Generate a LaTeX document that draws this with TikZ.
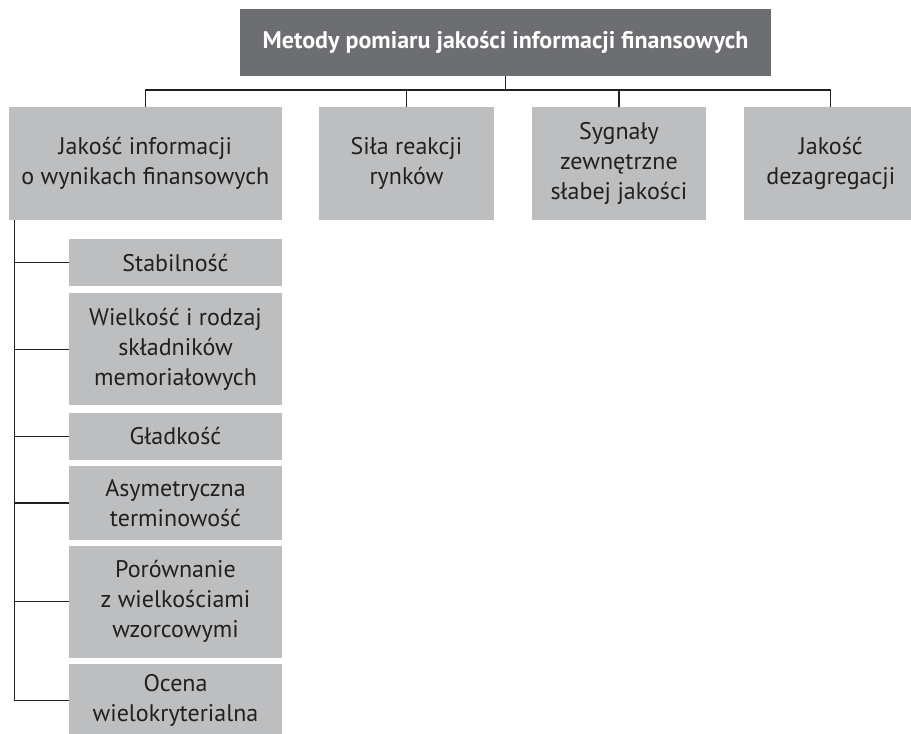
\documentclass[tikz,border=0pt]{standalone}
\usepackage{fontspec}
\setmainfont{PT Sans}
\definecolor{darkbox}{HTML}{6D6E71}
\definecolor{lightbox}{HTML}{BCBEC0}
\definecolor{ink}{HTML}{231F20}
\tikzset{
  x=1pt,y=-1pt,
  topbox/.style={rectangle, fill=darkbox, text=white, inner sep=0pt, align=center,
    font=\fontsize{24}{30}\selectfont\bfseries},
  mainbox/.style={rectangle, fill=lightbox, text=ink, inner sep=0pt, align=center,
    font=\fontsize{24}{30}\selectfont},
  subbox/.style={mainbox, minimum width=213pt},
  link/.style={draw=ink, line width=1.2pt}
}
\begin{document}
\begin{tikzpicture}
\useasboundingbox (0,0) rectangle (911,734);
\node[topbox, minimum width=531pt, minimum height=67pt] (top) at (505.5,42.5) {Metody pomiaru jakości informacji finansowych};
\node[mainbox, minimum width=273pt, minimum height=113pt] (b1) at (145.3,163.5) {Jakość informacji\\o wynikach finansowych};
\node[mainbox, minimum width=175.5pt, minimum height=113pt] (b2) at (406.5,163.5) {Siła reakcji\\rynków};
\node[mainbox, minimum width=174.3pt, minimum height=113pt] (b3) at (618.9,163.5) {Sygnały\\zewnętrzne\\słabej jakości};
\node[mainbox, minimum width=174pt, minimum height=113pt] (b4) at (830.8,163.5) {Jakość\\dezagregacji};
\node[subbox, minimum height=47pt] (s1) at (175.5,262.7) {Stabilność};
\node[subbox, minimum height=112.4pt] (s2) at (175.5,349.2) {Wielkość i rodzaj\\składników\\memoriałowych};
\node[subbox, minimum height=46.6pt] (s3) at (175.5,436.3) {Gładkość};
\node[subbox, minimum height=73.3pt] (s4) at (175.5,503) {Asymetryczna\\terminowość};
\node[subbox, minimum height=111.8pt] (s5) at (175.5,601.7) {Porównanie\\z wielkościami\\wzorcowymi};
\node[subbox, minimum height=73pt] (s6) at (175.5,700.5) {Ocena\\wielokryterialna};
\coordinate (bar) at (0,90);
\coordinate (trunk) at (14.5,0);
\draw[link] (top.south) -- (top.south |- bar);
\draw[link] (b1.north) -- (b1.north |- bar) -- (b4.north |- bar) -- (b4.north);
\draw[link] (b2.north) -- (b2.north |- bar);
\draw[link] (b3.north) -- (b3.north |- bar);
\draw[link] (b1.south -| trunk) -- (s6.west -| trunk) -- (s6.west);
\foreach \s in {s1,s2,s3,s4,s5}{
  \draw[link] (\s.west -| trunk) -- (\s.west);
}
\end{tikzpicture}
\end{document}
